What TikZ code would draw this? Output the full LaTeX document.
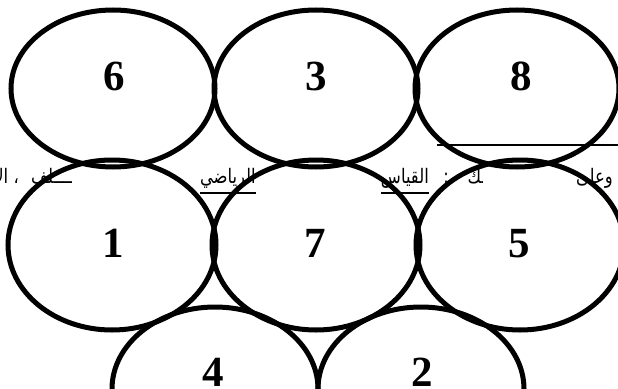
\documentclass[tikz,border=0pt]{standalone}
\usepackage{fontspec}
\setmainfont{Liberation Serif}
\newfontfamily\arabicfont[Script=Arabic,FakeStretch=0.82]{DejaVu Sans}
\TeXXeTstate=1
\begin{document}
\begin{tikzpicture}[x=1pt,y=-1pt,
  ell/.style={line width=5pt},
  num/.style={font=\fontsize{43}{43}\selectfont\bfseries, inner sep=0pt, anchor=base},
  ar/.style={font=\arabicfont\fontsize{20}{23}\selectfont, inner sep=0pt},
  uline/.style={line width=1.6pt}]
\useasboundingbox (0,0) rectangle (618,388);
\fill[white] (0,0) rectangle (618,388);
% text line, partly hidden behind the ellipses
\begin{scope}
  \clip (562,140) rectangle (618,200);
  \node[ar, anchor=base east] (t1) at (613,183) {\beginR وعلى\endR};
\end{scope}
\begin{scope}
  \clip (460,140) rectangle (482,200);
  \node[ar, anchor=base east] (t2) at (494,183) {\beginR ذلك\endR};
\end{scope}
\node[ar, anchor=base east] (tc) at (449,183) {:};
\node[ar, anchor=base east] (t3) at (429,183) {\beginR القياس\endR};
\node[ar, anchor=base east] (t4) at (256,183) {\beginR الرياضي\endR};
\begin{scope}
  \clip (24,140) rectangle (71,200);
  \node[ar, anchor=base west] (t5) at (31,183) {\beginR الخــــلف\endR};
\end{scope}
\node[ar, anchor=base east] (t6) at (19,183) {\beginR ، الاستقراء\endR};
\draw[uline] (t3.base west) ++(0,10) -- ([yshift=-10pt]t3.base east);
\draw[uline] ([yshift=-10pt]t4.base west) -- ([yshift=-10pt]t4.base east);
% line top right
\draw[line width=1.8pt] (437,145) -- (618,145);
% outlines
\foreach \cx in {113,316,517} \draw[ell] (\cx,88.5) ellipse [x radius=102pt,y radius=78.5pt];
\foreach \cx in {112,316,520} \draw[ell] (\cx,245) ellipse [x radius=104pt,y radius=85pt];
\foreach \cx in {215,421} \draw[ell] (\cx,389) ellipse [x radius=103pt,y radius=82pt];
% numbers
\node[num] (n6) at (114,90) {6};
\node[num] (n3) at (316,90) {3};
\node[num] (n8) at (521,90) {8};
\node[num] (n1) at (113,257) {1};
\node[num] (n7) at (315,257) {7};
\node[num] (n5) at (519,257) {5};
\node[num] (n4) at (213,386) {4};
\node[num] (n2) at (422,386) {2};
\end{tikzpicture}
\end{document}
